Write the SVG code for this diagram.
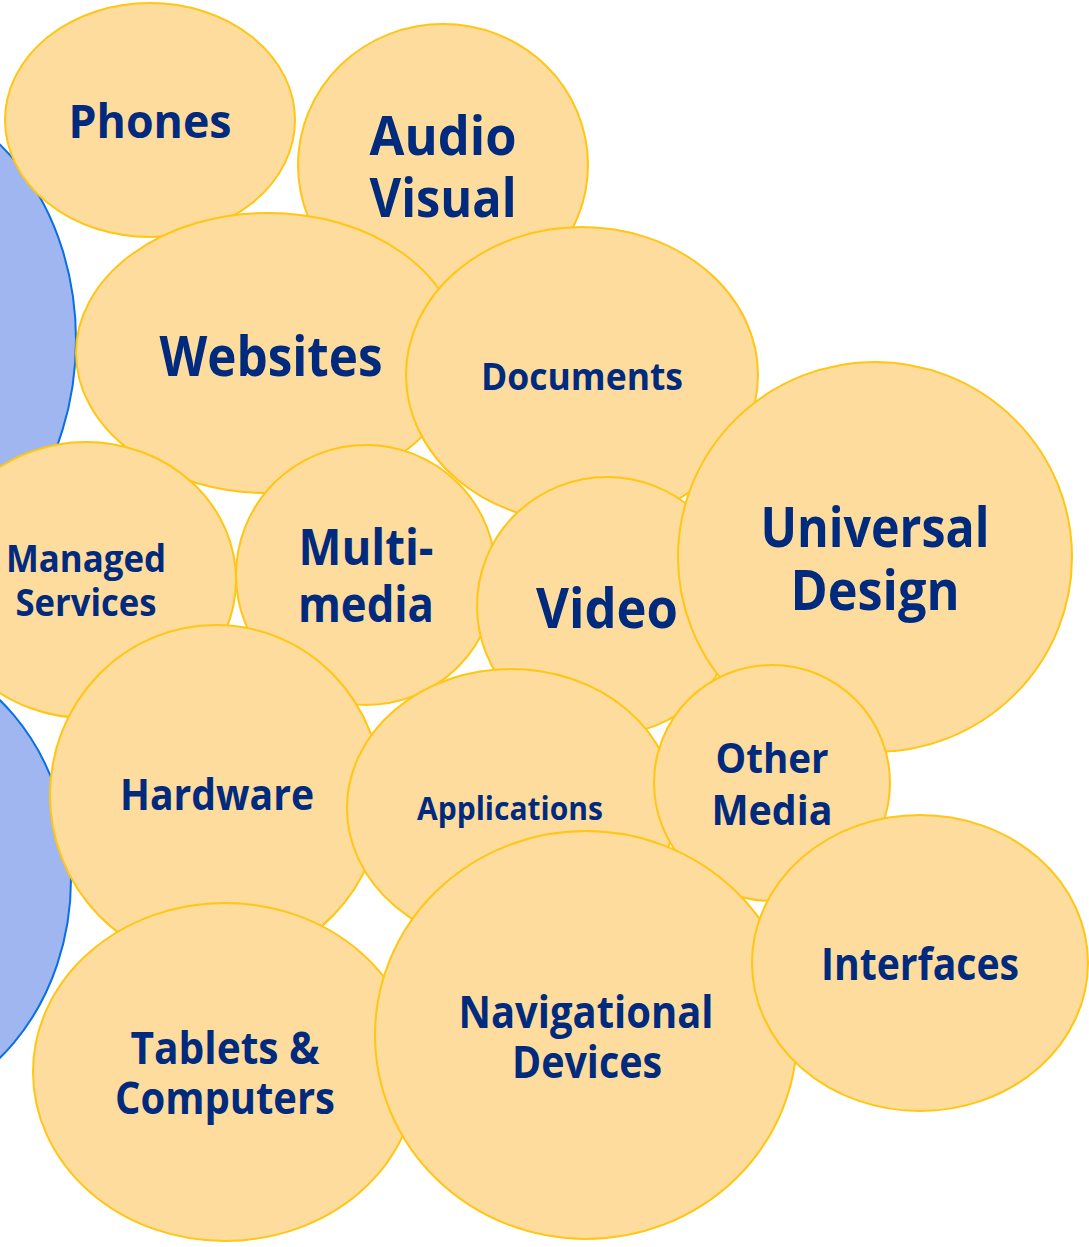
<svg xmlns="http://www.w3.org/2000/svg" width="1089" height="1247" viewBox="0 0 1089 1247">
<style>
.blue{fill:#A0B6F0;stroke:#0A6FE0;stroke-width:2}
.bub{fill:#FDDC9D;stroke:#FFC614;stroke-width:2}
text{font-family:"Open Sans","Noto Sans","DejaVu Sans",sans-serif;font-weight:bold;fill:#002A7D;text-anchor:middle}
</style>
<rect width="1089" height="1247" fill="#FFFFFF"/>
<g id="bg-left-top"><ellipse class="blue" cx="-120" cy="340" rx="196" ry="247"/></g>
<g id="bg-left-bottom"><ellipse class="blue" cx="-125" cy="879" rx="196" ry="232"/></g>
<g id="connectors"></g>
<g id="phones"><ellipse class="bub" cx="150" cy="120" rx="145" ry="117"/><text x="150" y="138" font-size="47" textLength="163" lengthAdjust="spacingAndGlyphs">Phones</text></g>
<g id="audio-visual"><ellipse class="bub" cx="443" cy="165" rx="145" ry="141"/><text x="443" y="155" font-size="54" textLength="147" lengthAdjust="spacingAndGlyphs">Audio</text><text x="443" y="217" font-size="54" textLength="147" lengthAdjust="spacingAndGlyphs">Visual</text></g>
<g id="websites"><ellipse class="bub" cx="268" cy="353" rx="192" ry="140"/><text x="271" y="376" font-size="55" textLength="223" lengthAdjust="spacingAndGlyphs">Websites</text></g>
<g id="documents"><ellipse class="bub" cx="582" cy="375" rx="176" ry="148"/><text x="582" y="390" font-size="38" textLength="202" lengthAdjust="spacingAndGlyphs">Documents</text></g>
<g id="managed-services"><ellipse class="bub" cx="86" cy="580" rx="150" ry="138"/><text x="86" y="572" font-size="38" textLength="160" lengthAdjust="spacingAndGlyphs">Managed</text><text x="86" y="616" font-size="38" textLength="141" lengthAdjust="spacingAndGlyphs">Services</text></g>
<g id="multimedia"><ellipse class="bub" cx="366" cy="575" rx="130" ry="130"/><text x="366" y="565" font-size="50" textLength="135" lengthAdjust="spacingAndGlyphs">Multi-</text><text x="366" y="622" font-size="50" textLength="136" lengthAdjust="spacingAndGlyphs">media</text></g>
<g id="video"><ellipse class="bub" cx="607" cy="606" rx="130" ry="129"/><text x="607" y="628" font-size="55" textLength="142" lengthAdjust="spacingAndGlyphs">Video</text></g>
<g id="universal-design"><ellipse class="bub" cx="875" cy="557" rx="197" ry="195"/><text x="875" y="547" font-size="55" textLength="229" lengthAdjust="spacingAndGlyphs">Universal</text><text x="875" y="610" font-size="55" textLength="169" lengthAdjust="spacingAndGlyphs">Design</text></g>
<g id="hardware"><ellipse class="bub" cx="216" cy="795" rx="166" ry="170"/><text x="217" y="810" font-size="43" textLength="194" lengthAdjust="spacingAndGlyphs">Hardware</text></g>
<g id="applications"><ellipse class="bub" cx="511" cy="808" rx="164" ry="139"/><text x="510" y="820" font-size="33" textLength="186" lengthAdjust="spacingAndGlyphs">Applications</text></g>
<g id="other-media"><ellipse class="bub" cx="772" cy="783" rx="118" ry="118"/><text x="772" y="773" font-size="42" textLength="113" lengthAdjust="spacingAndGlyphs">Other</text><text x="772" y="825" font-size="42" textLength="121" lengthAdjust="spacingAndGlyphs">Media</text></g>
<g id="tablets-computers"><ellipse class="bub" cx="225" cy="1072" rx="192" ry="169"/><text x="225" y="1064" font-size="44" textLength="189" lengthAdjust="spacingAndGlyphs">Tablets &amp;</text><text x="225" y="1114" font-size="44" textLength="220" lengthAdjust="spacingAndGlyphs">Computers</text></g>
<g id="navigational-devices"><ellipse class="bub" cx="586" cy="1035" rx="211" ry="204"/><text x="586" y="1028" font-size="44" textLength="255" lengthAdjust="spacingAndGlyphs">Navigational</text><text x="587" y="1078" font-size="44" textLength="150" lengthAdjust="spacingAndGlyphs">Devices</text></g>
<g id="interfaces"><ellipse class="bub" cx="920" cy="963" rx="168" ry="148"/><text x="920" y="980" font-size="44" textLength="198" lengthAdjust="spacingAndGlyphs">Interfaces</text></g>
</svg>
